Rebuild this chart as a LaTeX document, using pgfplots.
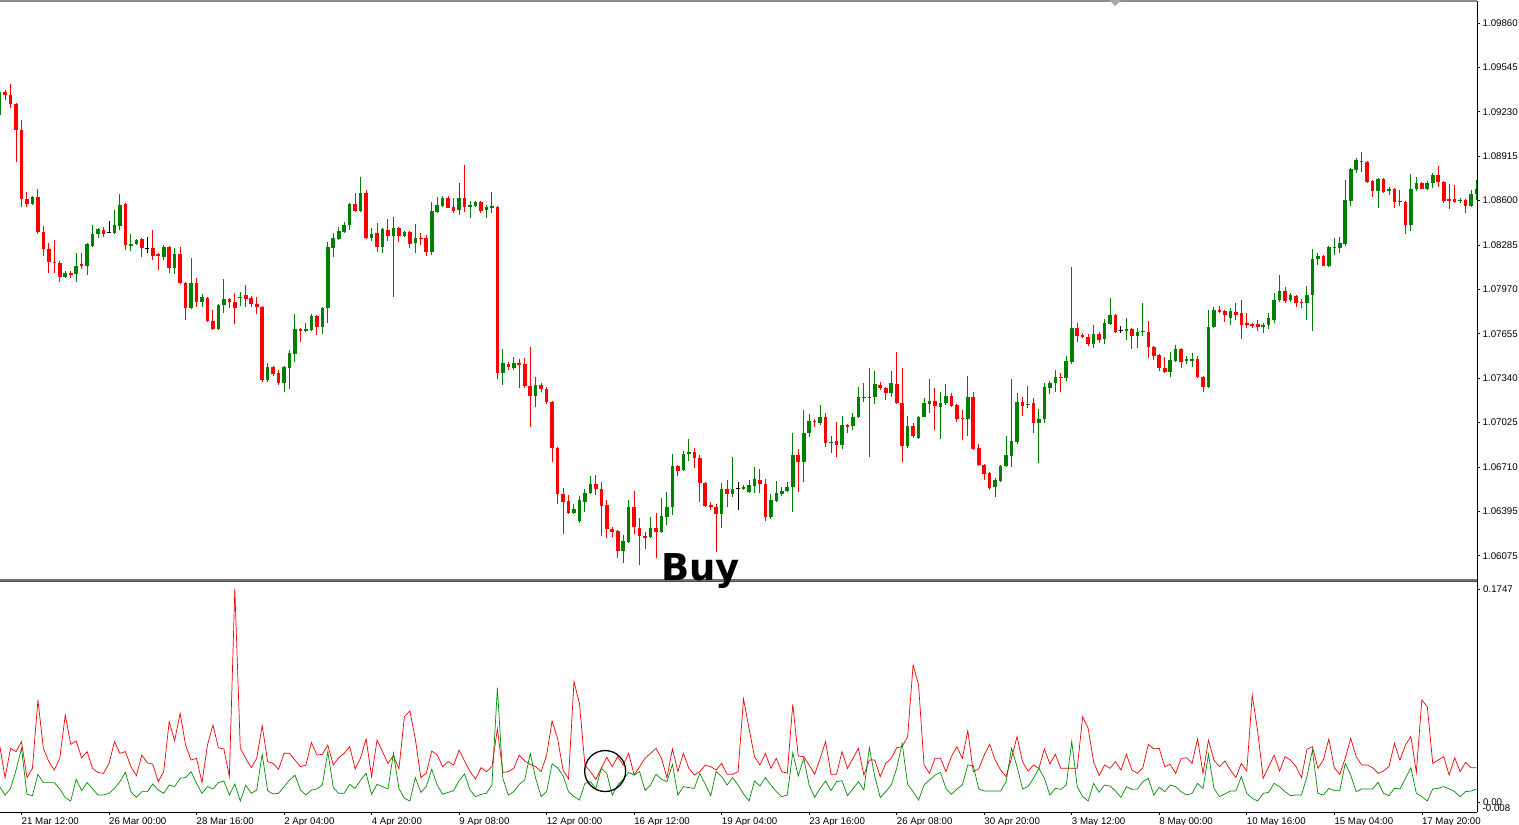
\documentclass[border=0pt]{standalone}
\usepackage{pgfplots}
\pgfplotsset{compat=1.18}
\usepackage{pgfplotstable}
\usepackage{fontspec}
\setmainfont{Liberation Sans}
\newfontfamily\buyfont{DejaVu Sans}
\definecolor{cgreen}{RGB}{0,128,0}
\definecolor{cred}{RGB}{255,0,0}
\definecolor{igreen}{RGB}{0,140,0}
\definecolor{ired}{RGB}{240,0,0}
\newcommand\axfont{\fontsize{9.7}{11}\selectfont}

\pgfplotstableread{
x o h l c
0 1.09207 1.09384 1.09200 1.09370
6 1.08576 1.08632 1.08569 1.08625
12 1.08058 1.08100 1.08051 1.08086
14 1.08079 1.08228 1.08022 1.08136
16 1.08136 1.08299 1.08072 1.08292
17 1.08278 1.08427 1.08271 1.08363
18 1.08363 1.08405 1.08334 1.08398
21 1.08370 1.08533 1.08363 1.08427
22 1.08420 1.08647 1.08391 1.08569
24 1.08278 1.08363 1.08242 1.08292
25 1.08292 1.08327 1.08285 1.08320
30 1.08200 1.08285 1.08178 1.08271
32 1.08121 1.08263 1.08079 1.08221
35 1.07838 1.08192 1.07831 1.08015
37 1.07880 1.07937 1.07845 1.07916
40 1.07689 1.07866 1.07682 1.07859
41 1.07859 1.08044 1.07802 1.07902
44 1.07909 1.07951 1.07852 1.07916
49 1.07327 1.07448 1.07313 1.07419
52 1.07306 1.07426 1.07242 1.07419
53 1.07412 1.07540 1.07263 1.07518
54 1.07511 1.07795 1.07455 1.07689
56 1.07675 1.07731 1.07667 1.07689
57 1.07682 1.07795 1.07675 1.07781
59 1.07703 1.07845 1.07653 1.07838
60 1.07838 1.08306 1.07731 1.08271
61 1.08263 1.08370 1.08200 1.08334
62 1.08327 1.08412 1.08320 1.08384
63 1.08377 1.08448 1.08370 1.08427
64 1.08427 1.08583 1.08391 1.08576
66 1.08526 1.08767 1.08519 1.08654
68 1.08334 1.08405 1.08313 1.08363
70 1.08271 1.08405 1.08228 1.08398
72 1.08349 1.08483 1.07916 1.08405
74 1.08349 1.08384 1.08342 1.08377
76 1.08299 1.08434 1.08228 1.08334
79 1.08235 1.08590 1.08214 1.08526
80 1.08519 1.08625 1.08512 1.08569
81 1.08561 1.08632 1.08554 1.08618
84 1.08533 1.08725 1.08498 1.08618
86 1.08554 1.08597 1.08476 1.08569
87 1.08561 1.08597 1.08554 1.08590
89 1.08533 1.08569 1.08476 1.08554
90 1.08547 1.08661 1.08512 1.08561
92 1.07377 1.07547 1.07291 1.07448
94 1.07412 1.07490 1.07398 1.07448
98 1.07213 1.07348 1.07135 1.07291
105 1.06383 1.06447 1.06376 1.06412
106 1.06327 1.06504 1.06312 1.06476
107 1.06461 1.06554 1.06390 1.06525
108 1.06525 1.06646 1.06518 1.06589
114 1.06114 1.06227 1.06029 1.06185
115 1.06178 1.06476 1.06170 1.06426
119 1.06213 1.06355 1.06206 1.06277
121 1.06248 1.06490 1.06241 1.06362
122 1.06355 1.06532 1.06298 1.06426
123 1.06426 1.06802 1.06369 1.06717
125 1.06688 1.06823 1.06681 1.06802
126 1.06802 1.06908 1.06752 1.06816
132 1.06376 1.06596 1.06277 1.06554
134 1.06518 1.06781 1.06497 1.06554
136 1.06554 1.06582 1.06546 1.06568
137 1.06532 1.06617 1.06525 1.06582
138 1.06575 1.06710 1.06525 1.06625
141 1.06355 1.06518 1.06341 1.06476
142 1.06468 1.06610 1.06461 1.06525
143 1.06518 1.06568 1.06504 1.06539
144 1.06539 1.06603 1.06532 1.06568
145 1.06568 1.06951 1.06390 1.06795
147 1.06745 1.07114 1.06603 1.06951
148 1.06951 1.07086 1.06923 1.07036
150 1.07022 1.07150 1.07008 1.07064
152 1.06880 1.06930 1.06809 1.06887
154 1.06866 1.07072 1.06837 1.07008
156 1.07001 1.07093 1.06972 1.07064
157 1.07064 1.07277 1.07057 1.07206
160 1.07206 1.07391 1.07157 1.07299
163 1.07235 1.07391 1.07206 1.07306
166 1.06859 1.07072 1.06844 1.07001
168 1.06915 1.07072 1.06908 1.07064
169 1.07064 1.07199 1.07064 1.07164
170 1.07157 1.07334 1.07093 1.07178
172 1.07135 1.07242 1.06908 1.07164
173 1.07164 1.07299 1.07150 1.07213
177 1.07050 1.07355 1.06930 1.07206
182 1.06568 1.06632 1.06497 1.06617
183 1.06610 1.06724 1.06603 1.06717
184 1.06717 1.06930 1.06710 1.06795
185 1.06788 1.07334 1.06710 1.06894
186 1.06887 1.07235 1.06873 1.07171
188 1.07150 1.07284 1.07128 1.07157
190 1.07022 1.07121 1.06738 1.07050
191 1.07050 1.07306 1.07022 1.07277
192 1.07270 1.07320 1.07228 1.07306
193 1.07306 1.07398 1.07242 1.07348
195 1.07341 1.07497 1.07320 1.07462
196 1.07455 1.08129 1.07440 1.07696
200 1.07582 1.07717 1.07554 1.07653
202 1.07618 1.07760 1.07582 1.07731
203 1.07724 1.07909 1.07717 1.07788
206 1.07675 1.07767 1.07611 1.07689
208 1.07639 1.07696 1.07554 1.07667
209 1.07667 1.07873 1.07639 1.07675
214 1.07384 1.07526 1.07348 1.07469
215 1.07462 1.07575 1.07455 1.07547
217 1.07462 1.07497 1.07440 1.07476
218 1.07462 1.07518 1.07419 1.07476
221 1.07277 1.07824 1.07270 1.07703
222 1.07703 1.07845 1.07696 1.07824
225 1.07767 1.07838 1.07717 1.07816
231 1.07703 1.07731 1.07660 1.07717
232 1.07717 1.07802 1.07689 1.07767
233 1.07753 1.07944 1.07731 1.07895
234 1.07895 1.08072 1.07880 1.07958
236 1.07895 1.07944 1.07880 1.07930
239 1.07873 1.07994 1.07753 1.07930
240 1.07930 1.08256 1.07675 1.08185
241 1.08185 1.08228 1.08143 1.08207
243 1.08136 1.08278 1.08129 1.08271
244 1.08263 1.08334 1.08214 1.08271
245 1.08263 1.08342 1.08228 1.08299
246 1.08292 1.08746 1.08278 1.08604
247 1.08597 1.08831 1.08561 1.08824
248 1.08817 1.08902 1.08796 1.08888
252 1.08668 1.08760 1.08547 1.08753
254 1.08668 1.08696 1.08640 1.08682
258 1.08427 1.08789 1.08384 1.08682
259 1.08682 1.08767 1.08668 1.08725
261 1.08682 1.08739 1.08675 1.08725
262 1.08725 1.08796 1.08689 1.08781
267 1.08597 1.08618 1.08583 1.08604
269 1.08561 1.08675 1.08554 1.08647
270 1.08647 1.08746 1.08604 1.08682
}\bull

\pgfplotstableread{
x o h l c
1 1.09370 1.09384 1.09314 1.09349
2 1.09349 1.09427 1.09257 1.09285
3 1.09285 1.09292 1.08874 1.09101
4 1.09101 1.09172 1.08554 1.08611
5 1.08611 1.08661 1.08554 1.08576
7 1.08625 1.08682 1.08363 1.08377
8 1.08377 1.08420 1.08207 1.08256
9 1.08256 1.08299 1.08086 1.08164
10 1.08164 1.08320 1.08086 1.08157
11 1.08157 1.08171 1.08022 1.08058
13 1.08086 1.08100 1.08051 1.08072
15 1.08150 1.08228 1.08114 1.08136
19 1.08391 1.08412 1.08342 1.08363
23 1.08576 1.08583 1.08249 1.08285
26 1.08327 1.08334 1.08200 1.08263
28 1.08263 1.08391 1.08178 1.08207
29 1.08221 1.08228 1.08107 1.08207
31 1.08271 1.08278 1.08086 1.08121
33 1.08221 1.08271 1.08008 1.08015
34 1.08015 1.08022 1.07753 1.07838
36 1.08015 1.08051 1.07845 1.07880
38 1.07909 1.07916 1.07738 1.07746
39 1.07746 1.07824 1.07682 1.07689
42 1.07902 1.07909 1.07838 1.07880
43 1.07880 1.07944 1.07724 1.07838
45 1.07930 1.08001 1.07845 1.07902
46 1.07909 1.07923 1.07845 1.07866
47 1.07866 1.07916 1.07795 1.07845
48 1.07845 1.07852 1.07313 1.07327
50 1.07419 1.07426 1.07355 1.07370
51 1.07377 1.07398 1.07291 1.07306
55 1.07689 1.07696 1.07597 1.07675
58 1.07781 1.07788 1.07646 1.07703
65 1.08576 1.08654 1.08519 1.08526
67 1.08654 1.08675 1.08327 1.08334
69 1.08370 1.08441 1.08235 1.08271
71 1.08391 1.08469 1.08313 1.08349
73 1.08405 1.08412 1.08306 1.08349
75 1.08377 1.08384 1.08263 1.08292
77 1.08334 1.08370 1.08285 1.08327
78 1.08334 1.08356 1.08207 1.08235
82 1.08618 1.08632 1.08547 1.08547
83 1.08554 1.08618 1.08512 1.08526
85 1.08618 1.08852 1.08519 1.08554
88 1.08590 1.08597 1.08512 1.08526
91 1.08554 1.08561 1.07334 1.07377
93 1.07440 1.07455 1.07398 1.07419
95 1.07448 1.07476 1.07270 1.07433
96 1.07440 1.07483 1.07270 1.07284
97 1.07284 1.07561 1.06993 1.07213
99 1.07291 1.07306 1.07242 1.07263
100 1.07263 1.07277 1.07157 1.07171
101 1.07171 1.07178 1.06745 1.06844
102 1.06844 1.06852 1.06447 1.06518
103 1.06518 1.06561 1.06234 1.06461
104 1.06468 1.06511 1.06376 1.06383
109 1.06589 1.06653 1.06511 1.06554
110 1.06554 1.06603 1.06220 1.06433
111 1.06440 1.06476 1.06206 1.06270
112 1.06270 1.06284 1.06213 1.06248
113 1.06256 1.06263 1.06064 1.06114
116 1.06426 1.06539 1.06234 1.06284
117 1.06277 1.06348 1.06014 1.06220
118 1.06220 1.06248 1.06128 1.06206
120 1.06277 1.06383 1.06064 1.06248
124 1.06717 1.06724 1.06646 1.06681
127 1.06816 1.06844 1.06703 1.06773
128 1.06773 1.06795 1.06461 1.06596
129 1.06596 1.06603 1.06426 1.06433
130 1.06440 1.06461 1.06405 1.06426
131 1.06426 1.06447 1.06107 1.06376
133 1.06554 1.06617 1.06426 1.06518
139 1.06617 1.06695 1.06525 1.06589
140 1.06589 1.06625 1.06327 1.06355
146 1.06795 1.06837 1.06532 1.06745
149 1.07036 1.07050 1.06993 1.07029
151 1.07064 1.07093 1.06852 1.06880
153 1.06894 1.07029 1.06781 1.06866
155 1.07008 1.07015 1.06951 1.06993
158 1.07206 1.07306 1.07171 1.07199
159 1.07206 1.07412 1.06781 1.07199
161 1.07291 1.07313 1.07256 1.07270
162 1.07270 1.07277 1.07185 1.07235
164 1.07299 1.07526 1.07157 1.07164
165 1.07164 1.07412 1.06745 1.06859
167 1.07001 1.07022 1.06915 1.06930
171 1.07178 1.07270 1.06972 1.07142
174 1.07213 1.07235 1.07135 1.07142
175 1.07150 1.07157 1.07029 1.07050
176 1.07057 1.07114 1.06901 1.07050
178 1.07206 1.07242 1.06830 1.06837
179 1.06844 1.06873 1.06717 1.06724
180 1.06724 1.06731 1.06617 1.06660
181 1.06667 1.06674 1.06546 1.06561
187 1.07171 1.07206 1.07072 1.07142
189 1.07164 1.07199 1.06951 1.07022
194 1.07348 1.07377 1.07242 1.07341
197 1.07696 1.07731 1.07597 1.07639
198 1.07646 1.07660 1.07625 1.07632
199 1.07632 1.07653 1.07568 1.07582
201 1.07653 1.07667 1.07589 1.07611
204 1.07788 1.07795 1.07660 1.07667
207 1.07689 1.07696 1.07547 1.07639
210 1.07667 1.07746 1.07483 1.07561
211 1.07561 1.07568 1.07469 1.07497
212 1.07504 1.07511 1.07391 1.07412
213 1.07412 1.07490 1.07377 1.07384
216 1.07547 1.07554 1.07412 1.07455
219 1.07476 1.07497 1.07341 1.07348
220 1.07348 1.07355 1.07242 1.07277
223 1.07824 1.07852 1.07802 1.07809
224 1.07816 1.07824 1.07738 1.07788
226 1.07809 1.07873 1.07753 1.07788
227 1.07802 1.07895 1.07618 1.07717
228 1.07731 1.07802 1.07696 1.07717
229 1.07724 1.07731 1.07696 1.07710
230 1.07724 1.07753 1.07675 1.07703
235 1.07958 1.07987 1.07873 1.07887
237 1.07923 1.07930 1.07845 1.07873
238 1.07880 1.07902 1.07838 1.07873
242 1.08207 1.08214 1.08136 1.08136
249 1.08881 1.08945 1.08803 1.08874
250 1.08874 1.08881 1.08725 1.08732
251 1.08739 1.08746 1.08625 1.08668
253 1.08753 1.08760 1.08654 1.08661
255 1.08682 1.08689 1.08547 1.08590
256 1.08597 1.08675 1.08561 1.08590
257 1.08590 1.08597 1.08363 1.08427
260 1.08725 1.08732 1.08682 1.08682
263 1.08781 1.08845 1.08696 1.08732
264 1.08732 1.08739 1.08583 1.08597
265 1.08611 1.08718 1.08540 1.08597
266 1.08611 1.08710 1.08583 1.08590
268 1.08604 1.08611 1.08512 1.08561
}\bear

\pgfplotstableread{
x o h l c
20 1.08377 1.08455 1.08370 1.08377
27 1.08263 1.08342 1.08228 1.08263
135 1.06554 1.06603 1.06405 1.06554
205 1.07675 1.07710 1.07660 1.07675
}\doji

\pgfplotstableread{
x r g
0 0.0467 0.0126
1 0.0200 0.0057
2 0.0440 0.0112
3 0.0413 0.0262
4 0.0495 0.0440
5 0.0200 0.0063
6 0.0276 0.0052
7 0.0836 0.0227
8 0.0440 0.0159
9 0.0331 0.0159
10 0.0262 0.0159
11 0.0358 0.0107
12 0.0713 0.0036
13 0.0473 0.0008
14 0.0500 0.0186
15 0.0363 0.0093
16 0.0413 0.0159
17 0.0276 0.0107
18 0.0241 0.0057
19 0.0235 0.0057
20 0.0317 0.0071
21 0.0495 0.0112
22 0.0399 0.0167
23 0.0413 0.0243
24 0.0290 0.0085
25 0.0216 0.0038
26 0.0385 0.0085
27 0.0322 0.0085
28 0.0309 0.0148
29 0.0167 0.0098
30 0.0249 0.0071
31 0.0659 0.0139
32 0.0503 0.0126
33 0.0727 0.0194
34 0.0467 0.0200
35 0.0344 0.0249
36 0.0358 0.0153
37 0.0159 0.0071
38 0.0467 0.0126
39 0.0631 0.0107
40 0.0445 0.0159
41 0.0435 0.0172
42 0.0208 0.0057
43 0.1747 0.0148
44 0.0440 0.0008
45 0.0358 0.0139
46 0.0281 0.0071
47 0.0358 0.0098
48 0.0626 0.0391
49 0.0331 0.0093
50 0.0317 0.0066
51 0.0268 0.0071
52 0.0399 0.0126
53 0.0399 0.0180
54 0.0344 0.0221
55 0.0290 0.0098
56 0.0303 0.0057
57 0.0489 0.0098
58 0.0385 0.0107
59 0.0391 0.0139
60 0.0467 0.0413
61 0.0303 0.0118
62 0.0363 0.0071
63 0.0399 0.0071
64 0.0454 0.0145
65 0.0271 0.0112
66 0.0363 0.0180
67 0.0517 0.0235
68 0.0208 0.0063
69 0.0508 0.0145
70 0.0413 0.0126
71 0.0317 0.0107
72 0.0380 0.0399
73 0.0271 0.0112
74 0.0700 0.0030
75 0.0746 0.0008
76 0.0517 0.0200
77 0.0200 0.0079
78 0.0235 0.0126
79 0.0418 0.0268
80 0.0385 0.0139
81 0.0290 0.0063
82 0.0331 0.0079
83 0.0303 0.0093
84 0.0426 0.0175
85 0.0336 0.0230
86 0.0249 0.0098
87 0.0189 0.0044
88 0.0281 0.0063
89 0.0249 0.0071
90 0.0290 0.0139
91 0.0599 0.0937
92 0.0243 0.0194
93 0.0249 0.0057
94 0.0276 0.0085
95 0.0385 0.0145
96 0.0336 0.0180
97 0.0309 0.0399
98 0.0290 0.0194
99 0.0249 0.0044
100 0.0385 0.0085
101 0.0664 0.0312
102 0.0522 0.0281
103 0.0262 0.0216
104 0.0189 0.0085
105 0.0987 0.0044
106 0.0809 0.0016
107 0.0303 0.0153
108 0.0249 0.0167
109 0.0186 0.0112
110 0.0276 0.0276
111 0.0366 0.0235
112 0.0290 0.0057
113 0.0372 0.0139
114 0.0303 0.0186
115 0.0399 0.0243
116 0.0221 0.0221
117 0.0290 0.0249
118 0.0358 0.0093
119 0.0399 0.0139
120 0.0440 0.0227
121 0.0358 0.0186
122 0.0200 0.0167
123 0.0435 0.0309
124 0.0249 0.0057
125 0.0399 0.0126
126 0.0276 0.0118
127 0.0221 0.0112
128 0.0249 0.0235
129 0.0303 0.0145
130 0.0290 0.0052
131 0.0262 0.0249
132 0.0317 0.0208
133 0.0227 0.0139
134 0.0227 0.0200
135 0.0249 0.0139
136 0.0845 0.0066
137 0.0604 0.0008
138 0.0372 0.0172
139 0.0303 0.0131
140 0.0399 0.0200
141 0.0276 0.0139
142 0.0358 0.0085
143 0.0249 0.0044
144 0.0235 0.0057
145 0.0801 0.0404
146 0.0377 0.0213
147 0.0372 0.0358
148 0.0303 0.0139
149 0.0227 0.0038
150 0.0358 0.0112
151 0.0495 0.0172
152 0.0227 0.0093
153 0.0227 0.0167
154 0.0413 0.0175
155 0.0276 0.0052
156 0.0358 0.0107
157 0.0440 0.0167
158 0.0221 0.0098
159 0.0344 0.0445
160 0.0344 0.0208
161 0.0208 0.0036
162 0.0317 0.0085
163 0.0358 0.0139
164 0.0445 0.0276
165 0.0454 0.0481
166 0.0536 0.0145
167 0.1123 0.0085
168 0.0959 0.0016
169 0.0303 0.0139
170 0.0235 0.0180
171 0.0358 0.0221
172 0.0358 0.0243
173 0.0249 0.0112
174 0.0372 0.0063
175 0.0454 0.0107
176 0.0358 0.0139
177 0.0585 0.0303
178 0.0249 0.0298
179 0.0271 0.0107
180 0.0385 0.0090
181 0.0473 0.0090
182 0.0344 0.0090
183 0.0262 0.0090
184 0.0208 0.0167
185 0.0363 0.0440
186 0.0536 0.0290
187 0.0331 0.0107
188 0.0254 0.0126
189 0.0303 0.0194
190 0.0276 0.0276
191 0.0435 0.0194
192 0.0312 0.0057
193 0.0391 0.0112
194 0.0276 0.0104
195 0.0276 0.0139
196 0.0276 0.0495
197 0.0276 0.0126
198 0.0700 0.0044
199 0.0604 0.0008
200 0.0331 0.0153
201 0.0216 0.0079
202 0.0303 0.0139
203 0.0276 0.0131
204 0.0331 0.0090
205 0.0262 0.0038
206 0.0391 0.0126
207 0.0262 0.0104
208 0.0235 0.0107
209 0.0281 0.0167
210 0.0473 0.0194
211 0.0435 0.0057
212 0.0440 0.0120
213 0.0290 0.0085
214 0.0309 0.0139
215 0.0235 0.0126
216 0.0358 0.0085
217 0.0363 0.0057
218 0.0317 0.0071
219 0.0517 0.0153
220 0.0235 0.0112
221 0.0508 0.0391
222 0.0344 0.0112
223 0.0290 0.0044
224 0.0336 0.0066
225 0.0262 0.0090
226 0.0200 0.0090
227 0.0317 0.0208
228 0.0254 0.0071
229 0.0877 0.0030
230 0.0577 0.0008
231 0.0194 0.0071
232 0.0290 0.0079
233 0.0385 0.0153
234 0.0254 0.0126
235 0.0372 0.0085
236 0.0344 0.0052
237 0.0290 0.0057
238 0.0200 0.0057
239 0.0432 0.0208
240 0.0454 0.0426
241 0.0276 0.0071
242 0.0344 0.0057
243 0.0517 0.0112
244 0.0281 0.0093
245 0.0227 0.0093
246 0.0358 0.0317
247 0.0522 0.0221
248 0.0372 0.0085
249 0.0303 0.0107
250 0.0303 0.0107
251 0.0281 0.0107
252 0.0235 0.0161
253 0.0254 0.0071
254 0.0290 0.0052
255 0.0481 0.0112
256 0.0344 0.0107
257 0.0467 0.0194
258 0.0536 0.0281
259 0.0243 0.0071
260 0.0836 0.0044
261 0.0782 0.0008
262 0.0317 0.0107
263 0.0344 0.0112
264 0.0372 0.0126
265 0.0221 0.0107
266 0.0363 0.0085
267 0.0249 0.0044
268 0.0325 0.0085
269 0.0281 0.0090
270 0.0281 0.0107
}\ind

\pgfplotsset{
  wick/.style={draw=none, no markers, forget plot,
    error bars/.cd, y dir=plus, y explicit, error mark=none,
    error bar style={draw=#1, line width=1pt}},
  body/.style={draw=none, no markers, forget plot,
    error bars/.cd, y dir=plus, y explicit, error mark=none,
    error bar style={draw=#1, line width=3.6pt}},
}

\begin{document}
\begin{tikzpicture}[x=1pt,y=1pt]
\useasboundingbox (0,0) rectangle (1519,825);

% ---------------- price panel ----------------
\begin{axis}[
  at={(0pt,245pt)}, anchor=south west,
  scale only axis, width=1477pt, height=579pt,
  xmin=0.07, xmax=270.09, ymin=1.05908, ymax=1.10016,
  axis line style={draw=none},
  clip mode=individual,
  xtick=\empty,
  ytick={1.09860,1.09545,1.09230,1.08915,1.08600,1.08285,1.07970,1.07655,1.07340,1.07025,1.06710,1.06395,1.06080},
  yticklabels={1.09860,1.09545,1.09230,1.08915,1.08600,1.08285,1.07970,1.07655,1.07340,1.07025,1.06710,1.06395,1.06075},
  ytick pos=right, yticklabel pos=right,
  tick align=outside, major tick length=2.5pt,
  tick style={black, line width=0.6pt},
  yticklabel style={anchor=west, inner sep=0pt, font=\axfont, xshift=3pt},
]
\addplot[wick=cgreen] table[x=x, y=l, y error expr=\thisrow{h}-\thisrow{l}] {\bull};
\addplot[wick=cred] table[x=x, y=l, y error expr=\thisrow{h}-\thisrow{l}] {\bear};
\addplot[wick=black] table[x=x, y=l, y error expr=\thisrow{h}-\thisrow{l}] {\doji};
\addplot[body=cgreen] table[x=x, y=o, y error expr=\thisrow{c}-\thisrow{o}] {\bull};
\addplot[body=cred] table[x=x, y=c, y error expr=\thisrow{o}-\thisrow{c}] {\bear};
\addplot[only marks, mark=-, mark size=1.9pt, mark options={black, line width=0.9pt}, forget plot] table[x=x, y=o] {\doji};
\draw[black!45, line width=1.2pt] (rel axis cs:0,1) -- (rel axis cs:1,1);
\draw[black!55, line width=1.2pt] (rel axis cs:0,0) -- (rel axis cs:1,0);
\draw[black, line width=0.9pt] (rel axis cs:1,0) -- (rel axis cs:1,1);
\end{axis}

% ---------------- indicator panel ----------------
\begin{axis}[
  at={(0pt,13pt)}, anchor=south west,
  scale only axis, width=1477pt, height=230pt,
  xmin=0.07, xmax=270.09, ymin=-0.0082, ymax=0.1804,
  axis line style={draw=none},
  clip mode=individual,
  xtick={4,20,...,260},
  xticklabels={{21 Mar 12:00},{26 Mar 00:00},{28 Mar 16:00},{2 Apr 04:00},{4 Apr 20:00},{9 Apr 08:00},{12 Apr 00:00},{16 Apr 12:00},{19 Apr 04:00},{23 Apr 16:00},{26 Apr 08:00},{30 Apr 20:00},{3 May 12:00},{8 May 00:00},{10 May 16:00},{15 May 04:00},{17 May 20:00}},
  xtick pos=bottom,
  ytick={0.1747,0},
  yticklabels={0.1747,0.00},
  ytick pos=right, yticklabel pos=right,
  tick align=outside, major tick length=3pt,
  tick style={black, line width=0.6pt},
  xticklabel style={anchor=north west, inner sep=0pt, font=\axfont, yshift=-3pt},
  yticklabel style={anchor=west, inner sep=0pt, font=\axfont, xshift=3pt},
]
\addplot[ired, line width=0.7pt] table[x=x, y=r] {\ind};
\addplot[igreen, line width=0.7pt] table[x=x, y=g] {\ind};
\draw[black, line width=1.3pt] (axis cs:110.7,0.0254) circle[radius=20.5pt];
\node[anchor=west, inner sep=0pt, font=\axfont] at (axis cs:270.09,-0.0047) {\hspace*{5.5pt}-0.008};
\draw[black!70, line width=1pt] (rel axis cs:0,1) -- (rel axis cs:1,1);
\draw[black, line width=0.9pt] (rel axis cs:0,0) -- (rel axis cs:1,0);
\draw[black, line width=0.9pt] (rel axis cs:1,0) -- (rel axis cs:1,1.02);
\end{axis}

\node[anchor=base west, inner sep=0pt, font=\buyfont\bfseries\fontsize{37}{40}\selectfont] at (661,244) {Buy};
\fill[black!35] (1109,825) -- (1121,825) -- (1115,819) -- cycle;
\end{tikzpicture}
\end{document}
